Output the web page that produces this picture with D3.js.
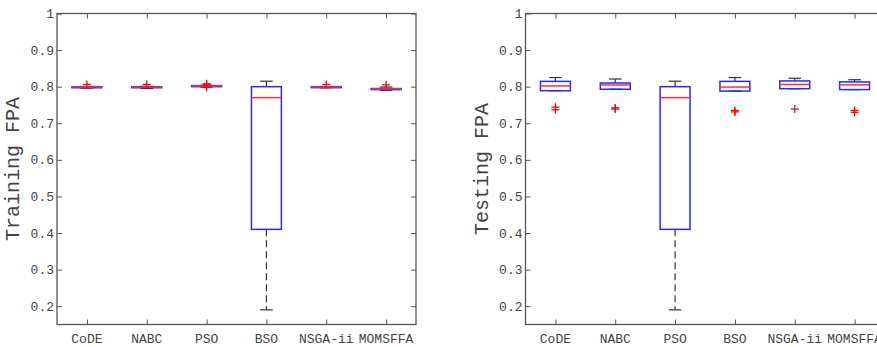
<!DOCTYPE html>
<html>
<head>
<meta charset="utf-8">
<script src="https://cdn.jsdelivr.net/npm/d3@7"></script>
<style>
  body { margin: 0; background: #fff; }
  text { font-family: "Liberation Mono", "DejaVu Sans Mono", monospace; }
</style>
</head>
<body>
<svg id="canvas"></svg>
<script>
// categories and y ticks
const methods = ["CoDE", "NABC", "PSO", "BSO", "NSGA-ii", "MOMSFFA"];
const yTicks = [0.2, 0.3, 0.4, 0.5, 0.6, 0.7, 0.8, 0.9, 1];

// Training FPA (left panel)
const trainLow    = [0.796, 0.795, 0.799, 0.19,  0.797, 0.790];
const trainQ1     = [0.797, 0.797, 0.800, 0.41,  0.798, 0.792];
const trainMedian = [0.799, 0.799, 0.802, 0.77,  0.799, 0.794];
const trainQ3     = [0.800, 0.800, 0.803, 0.80,  0.800, 0.795];
const trainHigh   = [0.800, 0.801, 0.804, 0.815, 0.800, 0.799];
const trainOut    = [[0.806], [0.806], [0.808, 0.805, 0.798], [], [0.806], [0.805]];

// Testing FPA (right panel)
const testLow    = [0.789, 0.793, 0.19,  0.788, 0.7945, 0.792];
const testQ1     = [0.789, 0.793, 0.41,  0.788, 0.7945, 0.792];
const testMedian = [0.802, 0.8046, 0.77, 0.799, 0.806, 0.805];
const testQ3     = [0.8145, 0.810, 0.80, 0.8145, 0.8156, 0.813];
const testHigh   = [0.825, 0.821, 0.815, 0.825, 0.823, 0.819];
const testOut    = [[0.744, 0.737], [0.742, 0.739], [], [0.735, 0.731], [0.739], [0.735, 0.730]];

const width = 877, height = 347;
const svg = d3.select("#canvas").attr("width", width).attr("height", height);

const axisColor = "#555";
const textColor = "#444";

function panel(left, label, low, q1, med, q3, high, outs) {
  const top = 13.5, bottom = 324.5, w = 359;
  const x = d3.scaleLinear().domain([0.5, 6.5]).range([left, left + w]);
  const y = d3.scaleLinear().domain([0.15, 1]).range([bottom, top]);
  const g = svg.append("g");

  const data = methods.map((m, i) => ({
    i: i + 1, low: low[i], q1: q1[i], med: med[i], q3: q3[i], high: high[i], outs: outs[i]
  }));

  // whiskers (dashed)
  g.selectAll(".wup").data(data).enter().append("line")
    .attr("x1", d => x(d.i)).attr("x2", d => x(d.i))
    .attr("y1", d => y(d.q3)).attr("y2", d => y(d.high))
    .attr("stroke", "#333").attr("stroke-width", 1.2).attr("stroke-dasharray", "7,4");
  g.selectAll(".wlo").data(data).enter().append("line")
    .attr("x1", d => x(d.i)).attr("x2", d => x(d.i))
    .attr("y1", d => y(d.q1)).attr("y2", d => y(d.low))
    .attr("stroke", "#333").attr("stroke-width", 1.2).attr("stroke-dasharray", "7,4");
  // caps
  ["high", "low"].forEach(k => {
    g.selectAll(".cap-" + k).data(data).enter().append("line")
      .attr("x1", d => x(d.i - 0.105)).attr("x2", d => x(d.i + 0.105))
      .attr("y1", d => y(d[k])).attr("y2", d => y(d[k]))
      .attr("stroke", "#333").attr("stroke-width", 1.2);
  });

  // boxes
  g.selectAll(".box").data(data).enter().append("rect")
    .attr("x", d => x(d.i - 0.25))
    .attr("y", d => y(d.q3))
    .attr("width", d => x(d.i + 0.25) - x(d.i - 0.25))
    .attr("height", d => Math.max(1, y(d.q1) - y(d.q3)))
    .attr("fill", "none").attr("stroke", "#2828ff").attr("stroke-width", 1.5);

  // medians
  g.selectAll(".med").data(data).enter().append("line")
    .attr("x1", d => x(d.i - 0.25)).attr("x2", d => x(d.i + 0.25))
    .attr("y1", d => y(d.med)).attr("y2", d => y(d.med))
    .attr("stroke", "#ff3030").attr("stroke-width", 1.5);

  // outliers
  const outPts = data.flatMap(d => d.outs.map(v => ({ i: d.i, v })));
  const s = 4;
  g.selectAll(".oh").data(outPts).enter().append("line")
    .attr("x1", d => x(d.i) - s).attr("x2", d => x(d.i) + s)
    .attr("y1", d => y(d.v)).attr("y2", d => y(d.v))
    .attr("stroke", "red").attr("stroke-width", 1.3);
  g.selectAll(".ov").data(outPts).enter().append("line")
    .attr("x1", d => x(d.i)).attr("x2", d => x(d.i))
    .attr("y1", d => y(d.v) - s).attr("y2", d => y(d.v) + s)
    .attr("stroke", "red").attr("stroke-width", 1.3);

  // axes, MATLAB style with ticks inside
  const fmt = d => d === 1 ? "1" : d3.format(".1f")(d);
  const ax = [
    g.append("g").attr("transform", `translate(${left},0)`)
      .call(d3.axisRight(y).tickValues(yTicks).tickSize(5).tickFormat("")),
    g.append("g").attr("transform", `translate(${left + w},0)`)
      .call(d3.axisLeft(y).tickValues(yTicks).tickSize(5).tickFormat("")),
    g.append("g").attr("transform", `translate(0,${bottom})`)
      .call(d3.axisTop(x).tickValues([1, 2, 3, 4, 5, 6]).tickSize(5).tickFormat("")),
    g.append("g").attr("transform", `translate(0,${top})`)
      .call(d3.axisBottom(x).tickValues([1, 2, 3, 4, 5, 6]).tickSize(5).tickFormat(""))
  ];
  ax.forEach(a => {
    a.selectAll("line").attr("stroke", axisColor);
    a.select(".domain").remove();
  });
  g.append("rect")
    .attr("x", left).attr("y", top).attr("width", w).attr("height", bottom - top)
    .attr("fill", "none").attr("stroke", axisColor).attr("stroke-width", 1.3);

  // tick labels
  g.selectAll(".ylab").data(yTicks).enter().append("text")
    .attr("x", left - 3).attr("y", d => y(d)).attr("dy", "0.35em")
    .attr("text-anchor", "end").attr("font-size", 13).attr("fill", textColor)
    .text(fmt);
  g.selectAll(".xlab").data(methods).enter().append("text")
    .attr("x", (d, i) => x(i + 1)).attr("y", 343)
    .attr("text-anchor", "middle").attr("font-size", 13).attr("fill", textColor)
    .text(d => d);

  g.append("text")
    .attr("transform", `translate(${left - 38},${(top + bottom) / 2}) rotate(-90)`)
    .attr("text-anchor", "middle").attr("font-size", 20).attr("fill", textColor)
    .text(label);
}

panel(57, "Training FPA", trainLow, trainQ1, trainMedian, trainQ3, trainHigh, trainOut);
panel(525.5, "Testing FPA", testLow, testQ1, testMedian, testQ3, testHigh, testOut);
</script>
</body>
</html>
